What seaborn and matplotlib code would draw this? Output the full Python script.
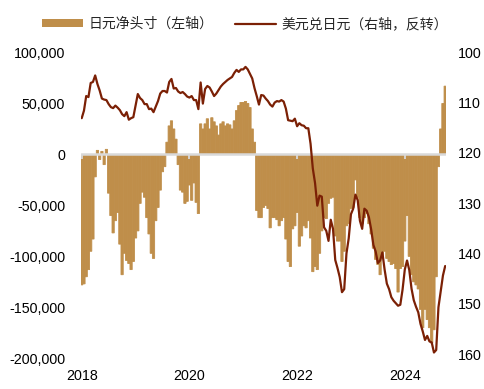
import numpy as np
import pandas as pd
import matplotlib
matplotlib.use("Agg")
import matplotlib.pyplot as plt
import seaborn as sns
from matplotlib.patches import Patch
from matplotlib.lines import Line2D
from matplotlib.ticker import FuncFormatter, FixedLocator

sns.set_style("white")
plt.rcParams["font.family"] = ["Liberation Sans", "Noto Sans CJK SC", "DejaVu Sans"]
plt.rcParams["axes.unicode_minus"] = False

# ---- data (semi-monthly, starting Jan 2018) ----
start_year = 2018
steps_per_year = 24
# JPY net position (thousand contracts), left axis
net_2018 = [-128, -127, -120, -113, -95, -83, -22, 4, -5, 3, -10, 5, -38, -60, -77, -65, -57, -88, -118, -97, -104, -107, -113, -105]
net_2019 = [-82, -75, -48, -37, -42, -62, -78, -97, -102, -65, -52, -35, -17, -12, 12, 28, 33, 25, 15, -10, -35, -37, -48, -46]
net_2020 = [-30, -45, -28, -47, -58, 30, 25, 30, 35, 25, 36, 32, 28, 19, 30, 32, 28, 30, 29, 25, 33, 43, 48, 51]
net_2021 = [51, 52, 50, 46, 25, 12, -55, -62, -62, -52, -50, -53, -72, -62, -62, -64, -70, -65, -62, -83, -105, -110, -73, -70]
net_2022 = [-57, -90, -80, -70, -72, -65, -82, -115, -110, -113, -97, -75, -62, -63, -48, -43, -42, -80, -85, -85, -105, -95, -70, -68]
net_2023 = [-53, -52, -25, -42, -62, -68, -62, -58, -68, -78, -92, -103, -108, -118, -100, -95, -102, -105, -108, -107, -112, -135, -112, -110]
net_2024 = [-85, -60, -100, -118, -125, -128, -132, -152, -170, -152, -162, -170, -185, -172, -120, -12, 25, 50, 67]

# USD/JPY, right axis (inverted)
fx_2018 = [113.1, 111.6, 108.7, 108.9, 106.1, 105.9, 104.6, 106.3, 107.6, 109.2, 109.4, 109.5, 110.3, 110.9, 111.1, 110.6, 111.0, 111.5, 112.3, 112.7, 111.9, 113.4, 113.1, 112.9]
fx_2019 = [110.6, 108.3, 109.1, 109.5, 110.3, 110.3, 111.3, 111.2, 111.9, 110.8, 109.7, 108.2, 107.7, 107.7, 108.0, 105.9, 105.3, 107.2, 107.1, 107.8, 108.1, 107.9, 108.3, 108.8]
fx_2020 = [109.0, 108.7, 109.5, 109.5, 111.3, 106.0, 110.2, 107.3, 106.7, 107.0, 107.8, 108.7, 108.2, 107.5, 106.8, 106.3, 105.9, 105.5, 105.2, 104.9, 104.1, 103.5, 103.9, 103.4]
fx_2021 = [103.4, 102.9, 103.4, 104.3, 105.2, 107.1, 108.7, 110.4, 108.5, 108.6, 109.2, 109.7, 110.4, 110.8, 110.0, 109.7, 109.8, 109.5, 109.8, 111.2, 113.5, 113.6, 113.7, 113.2]
fx_2022 = [114.7, 114.1, 114.5, 114.6, 115.1, 115.1, 118.2, 123.1, 126.0, 130.5, 128.5, 128.7, 134.8, 135.5, 137.5, 133.3, 135.1, 141.3, 142.9, 144.7, 147.7, 147.1, 140.0, 137.0]
fx_2023 = [132.2, 131.1, 128.3, 129.4, 133.5, 135.1, 131.1, 131.5, 132.8, 135.2, 138.3, 139.6, 141.9, 141.4, 139.8, 143.2, 146.0, 147.1, 148.7, 149.4, 149.9, 150.4, 150.2, 147.2]
fx_2024 = [143.2, 141.4, 143.3, 147.0, 149.3, 150.6, 151.7, 154.0, 155.5, 157.2, 156.4, 157.5, 157.7, 159.7, 159.2, 150.7, 147.5, 144.4, 142.5]

year_ticks = [2018, 2020, 2022, 2024]
left_ticks = [100000, 50000, 0, -50000, -100000, -150000, -200000]
right_ticks = [100, 110, 120, 130, 140, 150, 160]
label_bar = "日元净头寸（左轴）"
label_line = "美元兑日元（右轴，反转）"

BAR = "#BF8E4A"
LINE = "#7B2005"
ZERO = "#D9D9D9"

net = np.array(net_2018 + net_2019 + net_2020 + net_2021 + net_2022 + net_2023 + net_2024) * 1000
fx = np.array(fx_2018 + fx_2019 + fx_2020 + fx_2021 + fx_2022 + fx_2023 + fx_2024)
step = np.arange(len(net))  # half-month index from Jan 2018
df = pd.DataFrame({"step": step, "net": net, "fx": fx})
tick_pos = [(y - start_year) * steps_per_year for y in year_ticks]

W, H = 485, 389
fig = plt.figure(figsize=(W / 100, H / 100), dpi=100)
ax = fig.add_axes([80.6 / W, 30 / H, 365.7 / W, 307 / H])

sns.barplot(data=df, x="step", y="net", native_scale=True, width=1,
            color=BAR, saturation=1, linewidth=0.6, edgecolor=BAR,
            snap=False, antialiased=True, ax=ax)
ax.axhline(0, color=ZERO, lw=1.8, zorder=3)
ax.vlines(tick_pos, -4500, 0, color=ZERO, lw=1.3, zorder=3)

xlim = (step[0] - 0.5, step[-1] + 0.5)
ax.set_xlim(*xlim)
ax.set_ylim(-200700, 100500)
ax.yaxis.set_major_locator(FixedLocator(left_ticks))
ax.yaxis.set_major_formatter(FuncFormatter(lambda v, p: f"{int(round(v)):,}"))
ax.set_xticks(tick_pos)
ax.set_xticklabels([str(y) for y in year_ticks])
ax.tick_params(axis="x", length=0, pad=7, labelsize=10.3, colors="black")
ax.tick_params(axis="y", length=0, pad=11.2, labelsize=10.3, colors="black")
ax.set_xlabel("")
ax.set_ylabel("")
for s in ax.spines.values():
    s.set_visible(False)

ax2 = ax.twinx()
sns.lineplot(data=df, x="step", y="fx", color=LINE, lw=1.6, ax=ax2, zorder=4)
ax2.set_ylim(160.99, 99.94)
ax2.yaxis.set_major_locator(FixedLocator(right_ticks))
ax2.tick_params(axis="y", length=0, pad=8.6, labelsize=10.3, colors="black")
ax2.set_xlim(*xlim)
ax2.set_xlabel("")
ax2.set_ylabel("")
for s in ax2.spines.values():
    s.set_visible(False)

handles = [Patch(facecolor=BAR, edgecolor="none"), Line2D([], [], color=LINE, lw=1.6)]
fig.legend(handles=handles, labels=[label_bar, label_line], loc="center",
           bbox_to_anchor=(245 / W, 1 - 24 / H), ncol=2, frameon=False,
           fontsize=10, handlelength=3.0, handleheight=0.45, handletextpad=0.4,
           columnspacing=1.5, borderpad=0, borderaxespad=0)

fig.savefig("out.png", dpi=100)
